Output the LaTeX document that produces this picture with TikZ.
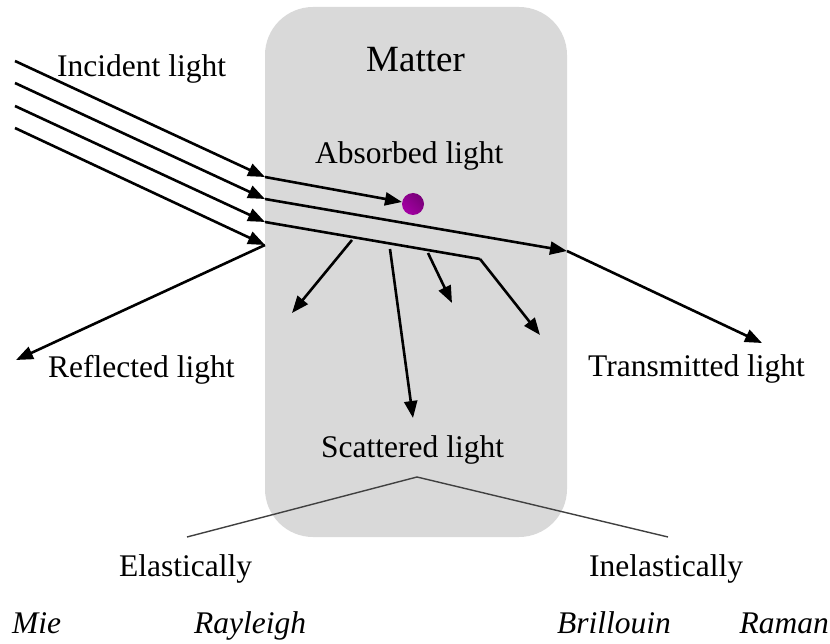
\documentclass[tikz,border=0pt]{standalone}
\usepackage{fontspec}
\setmainfont{Liberation Serif}
\usetikzlibrary{arrows.meta}
\definecolor{mattergray}{RGB}{217,217,217}
\definecolor{balldark}{RGB}{120,0,120}
\definecolor{balllight}{RGB}{165,0,165}
\definecolor{splitgray}{RGB}{64,64,64}
\begin{document}
\begin{tikzpicture}[x=1pt,y=-1pt,
  lbl/.style={font=\fontsize{31.5}{36}\selectfont, inner sep=0pt, anchor=base west},
  ilbl/.style={font=\fontsize{31.5}{36}\selectfont\itshape, inner sep=0pt, anchor=base west},
  ray/.style={line width=2.6pt, -{Triangle[length=17pt,width=13pt]}},
  seg/.style={line width=2.6pt},
  split/.style={line width=1.4pt, draw=splitgray}]
\useasboundingbox (0,0) rectangle (830,644);
% matter block
\fill[mattergray, rounded corners=48pt] (265,7) rectangle (567,537);
% labels
\node[lbl] (inc) at (57,77) {Incident light};
\node[lbl, font=\fontsize{37}{42}\selectfont] (mat) at (366,72) {Matter};
\node[lbl] (abs) at (315,164) {Absorbed light};
\node[lbl] (refl) at (48,377) {Reflected light};
\node[lbl] (trans) at (588,376) {Transmitted light};
\node[lbl] (scat) at (321,457) {Scattered light};
\node[lbl] (el) at (119,576) {Elastically};
\node[lbl] (inel) at (589,576) {Inelastically};
\node[ilbl] (mie) at (12,633) {Mie};
\node[ilbl] (ray) at (194,633) {Rayleigh};
\node[ilbl] (bri) at (557,633) {Brillouin};
\node[ilbl, anchor=base east] (ram) at (829,633) {Raman};
% absorbing particle
\node[circle, minimum size=22pt, inner sep=0pt, left color=balldark, right color=balllight, shading angle=-45] (ball) at (413,204) {};
% incident rays
\coordinate (i1s) at (15,61);   \coordinate (i1e) at (265,177);
\coordinate (i2s) at (15,83);   \coordinate (i2e) at (265,199);
\coordinate (i3s) at (15,106);  \coordinate (i3e) at (265,222);
\coordinate (i4s) at (15,128);  \coordinate (i4e) at (265,245);
\draw[ray] (i1s) -- (i1e);
\draw[ray] (i2s) -- (i2e);
\draw[ray] (i3s) -- (i3e);
\draw[ray] (i4s) -- (i4e);
% absorbed
\draw[ray] (i1e) -- (ball);
% transmitted
\coordinate (exit) at (567,251);
\coordinate (tend) at (762,343);
\draw[ray] (i2e) -- (exit);
\draw[ray] (exit) -- (tend);
% scattered path
\coordinate (bend) at (480,259);
\coordinate (s4) at (540,335);
\draw[seg] (i3e) -- (bend);
\draw[ray] (bend) -- (s4);
\coordinate (b1s) at (352,240); \coordinate (b1e) at (292,313);
\coordinate (b2s) at (390,249); \coordinate (b2e) at (413,418);
\coordinate (b3s) at (428,253); \coordinate (b3e) at (452,303);
\draw[ray] (b1s) -- (b1e);
\draw[ray] (b2s) -- (b2e);
\draw[ray] (b3s) -- (b3e);
% reflected
\coordinate (rend) at (16,360);
\draw[ray] (i4e) -- (rend);
% classification of scattering
\coordinate (apex) at (417,477);
\coordinate (lft) at (187,537);
\coordinate (rgt) at (668,537);
\draw[split] (lft) -- (apex) -- (rgt);
\end{tikzpicture}
\end{document}
